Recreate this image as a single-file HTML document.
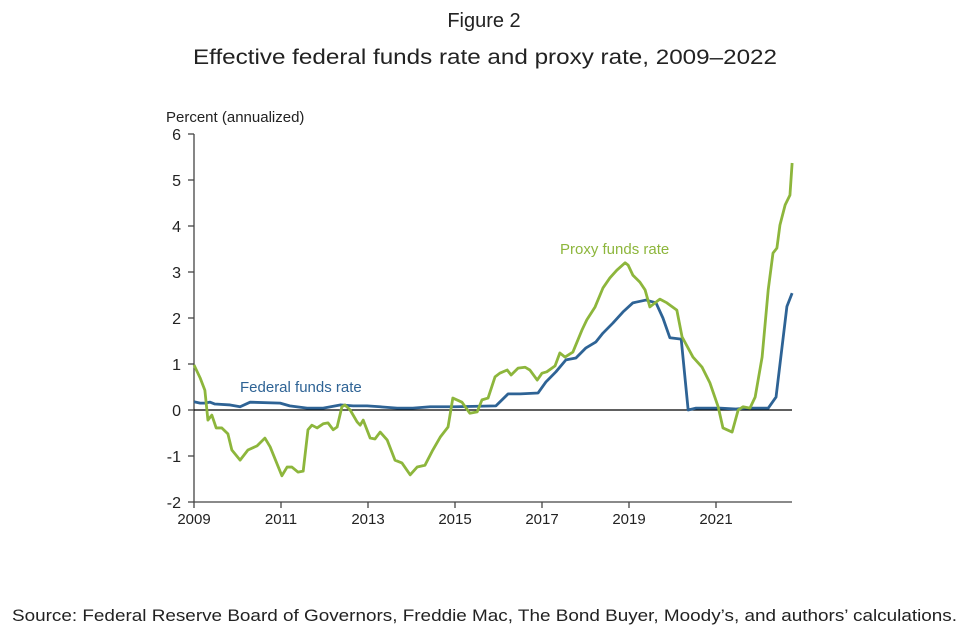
<!DOCTYPE html>
<html><head><meta charset="utf-8"><style>
body{margin:0;background:#fff;width:969px;height:629px;overflow:hidden;font-family:"Liberation Sans",sans-serif}
</style></head><body>
<svg width="969" height="629">
<text x="484" y="27" text-anchor="middle" font-size="20" fill="#222">Figure 2</text>
<text x="193" y="64" font-size="21" fill="#222" textLength="584" lengthAdjust="spacingAndGlyphs">Effective federal funds rate and proxy rate, 2009–2022</text>
<text x="166" y="122" font-size="15" fill="#222">Percent (annualized)</text>
<g id="axes"></g>
<g id="series"></g>
<text x="240" y="392" font-size="15" fill="#2e6395">Federal funds rate</text>
<text x="560" y="254" font-size="15" fill="#8db63c">Proxy funds rate</text>
<text x="12" y="621" font-size="17" fill="#222" textLength="945" lengthAdjust="spacingAndGlyphs">Source: Federal Reserve Board of Governors, Freddie Mac, The Bond Buyer, Moody’s, and authors’ calculations.</text>
</svg>
<script>
const yTicks=[-2,-1,0,1,2,3,4,5,6];
const xTicks=[2009,2011,2013,2015,2017,2019,2021];
const proxyYears=[2009.00,2009.14,2009.25,2009.32,2009.41,2009.51,2009.64,2009.78,2009.87,2010.06,2010.24,2010.45,2010.63,2010.75,2011.02,2011.14,2011.25,2011.39,2011.51,2011.62,2011.71,2011.83,2011.97,2012.08,2012.20,2012.29,2012.40,2012.47,2012.59,2012.75,2012.82,2012.89,2013.05,2013.16,2013.28,2013.44,2013.62,2013.78,2013.97,2014.13,2014.31,2014.49,2014.66,2014.84,2014.95,2015.16,2015.34,2015.51,2015.62,2015.76,2015.92,2016.03,2016.20,2016.29,2016.45,2016.61,2016.72,2016.89,2017.00,2017.11,2017.30,2017.41,2017.53,2017.71,2017.92,2018.03,2018.22,2018.40,2018.56,2018.72,2018.91,2018.98,2019.09,2019.25,2019.37,2019.48,2019.60,2019.71,2019.87,2020.10,2020.22,2020.47,2020.68,2020.86,2021.05,2021.16,2021.37,2021.51,2021.62,2021.78,2021.90,2022.06,2022.20,2022.31,2022.40,2022.47,2022.59,2022.70,2022.75];
const proxyValues=[0.98,0.70,0.43,-0.22,-0.11,-0.39,-0.39,-0.52,-0.87,-1.09,-0.87,-0.78,-0.61,-0.80,-1.43,-1.24,-1.24,-1.35,-1.33,-0.43,-0.33,-0.39,-0.30,-0.28,-0.43,-0.37,0.07,0.11,0.00,-0.26,-0.33,-0.22,-0.61,-0.63,-0.48,-0.65,-1.09,-1.15,-1.41,-1.24,-1.20,-0.87,-0.59,-0.37,0.26,0.17,-0.07,-0.04,0.22,0.26,0.72,0.80,0.87,0.76,0.91,0.93,0.87,0.65,0.80,0.83,0.96,1.24,1.15,1.26,1.74,1.96,2.24,2.65,2.87,3.04,3.20,3.15,2.93,2.78,2.61,2.24,2.33,2.41,2.33,2.17,1.59,1.15,0.93,0.59,0.07,-0.39,-0.48,0.00,0.07,0.04,0.28,1.15,2.61,3.41,3.52,4.02,4.46,4.67,5.37];
const fedYears=[2009.00,2009.14,2009.25,2009.37,2009.48,2009.83,2010.06,2010.29,2010.98,2011.20,2011.60,2011.97,2012.36,2012.66,2012.98,2013.28,2013.67,2014.03,2014.43,2015.00,2015.94,2016.22,2016.50,2016.91,2017.09,2017.32,2017.55,2017.78,2018.01,2018.24,2018.40,2018.63,2018.86,2019.09,2019.39,2019.62,2019.78,2019.94,2020.20,2020.36,2020.54,2021.10,2021.46,2021.67,2022.20,2022.38,2022.63,2022.75];
const fedValues=[0.18,0.15,0.15,0.17,0.13,0.11,0.07,0.17,0.15,0.09,0.04,0.04,0.11,0.09,0.09,0.07,0.04,0.04,0.07,0.07,0.09,0.35,0.35,0.37,0.61,0.83,1.09,1.13,1.35,1.48,1.67,1.89,2.13,2.33,2.39,2.33,2.00,1.57,1.54,0.00,0.04,0.04,0.02,0.04,0.04,0.28,2.25,2.54];
const X=y=>194+(y-2009)*43.5, Y=v=>410-v*46;
const NS="http://www.w3.org/2000/svg";
const axes=document.getElementById('axes'), ser=document.getElementById('series');
function mk(tag,attrs,parent,text){const e=document.createElementNS(NS,tag);for(const k in attrs)e.setAttribute(k,attrs[k]);if(text!==undefined)e.textContent=text;parent.appendChild(e);return e;}
let e=mk('line',{x1:194,y1:Y(6),x2:194,y2:Y(-2),stroke:'#444','stroke-width':1.3},axes);


e=mk('line',{x1:194,y1:Y(-2),x2:792,y2:Y(-2),stroke:'#444','stroke-width':1.3},axes);


e=mk('line',{x1:194,y1:Y(0),x2:792,y2:Y(0),stroke:'#000','stroke-width':1.3},axes);


yTicks.forEach(t=>{
 mk('line',{x1:188,y1:Y(t),x2:194,y2:Y(t),stroke:'#444','stroke-width':1.3},axes);
 e=mk('text',{x:181,y:Y(t)+6,'text-anchor':'end','font-size':16,fill:'#222'},axes,String(t));
 
 
});
xTicks.forEach(t=>{
 mk('line',{x1:X(t),y1:Y(-2),x2:X(t),y2:Y(-2)+6,stroke:'#444','stroke-width':1.3},axes);
 e=mk('text',{x:X(t),y:Y(-2)+22,'text-anchor':'middle','font-size':15,fill:'#222'},axes,String(t));
 
 
});
function line(xs,vs,color){return mk('polyline',{points:xs.map((x,i)=>X(x)+','+Y(vs[i])).join(' '),fill:'none',stroke:color,'stroke-width':2.8,'stroke-linejoin':'round'},ser);}
e=line(fedYears,fedValues,'#2e6395');


e=line(proxyYears,proxyValues,'#8db63c');


</script>
</body></html>
